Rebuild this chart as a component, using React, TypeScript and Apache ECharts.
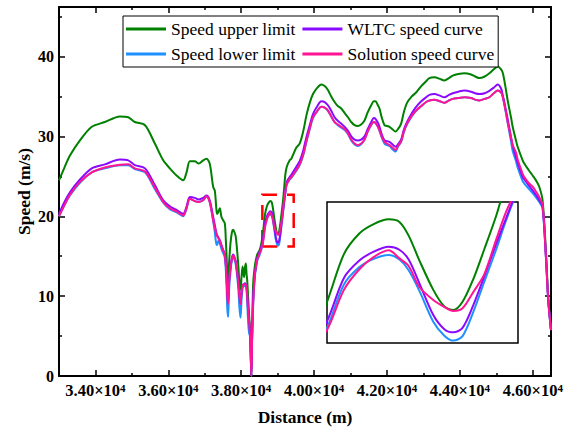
import React, { useEffect, useRef } from 'react';
import * as echarts from 'echarts';

const distance = [
  33000, 33150, 33300, 33575, 33900, 34260, 34670, 34900, 35080, 35360, 35630, 35860, 36040, 36225, 36405,
  36500, 36590, 36725, 36835, 36955, 37045, 37135, 37230, 37275, 37300, 37320, 37340, 37367, 37412, 37458,
  37504, 37550, 37578, 37600, 37620, 37641, 37665, 37705, 37745, 37779, 37815, 37852, 37916, 37950, 37980,
  38010, 38036, 38060, 38081, 38099, 38127, 38146, 38164, 38191, 38219, 38237, 38260, 38278, 38300, 38328,
  38374, 38401, 38438, 38507, 38552, 38600, 38655, 38705, 38750, 38800, 38835, 38865, 38900, 38945, 38980,
  39010, 39040, 39075, 39110, 39150, 39180, 39210, 39250, 39330, 39375, 39513, 39604, 39700, 39788, 39880,
  39969, 40090, 40196, 40290, 40379, 40470, 40562, 40650, 40745, 40840, 40928, 41018, 41110, 41200, 41290,
  41384, 41470, 41567, 41640, 41685, 41750, 41794, 41860, 41932, 42000, 42069, 42150, 42233, 42300, 42388,
  42460, 42550, 42680, 42799, 42940, 43074, 43164, 43302, 43450, 43576, 43700, 43804, 43960, 44125, 44307,
  44420, 44535, 44680, 44809, 44930, 45037, 45129, 45174, 45220, 45265, 45311, 45402, 45448, 45539, 45585,
  45722, 45767, 45900, 45996, 46100, 46178, 46269, 46361, 46425, 46500,
];

const upperLimit = [
  24.5, 26.1, 27.6, 29.5, 31.2, 31.8, 32.5, 32.4, 31.8, 31.4, 29.1, 27.0, 26.0, 25.1, 24.5,
  25.5, 26.9, 26.9, 26.6, 27.0, 27.2, 26.6, 23.7, 23.2, 22.0, 20.8, 20.3, 20.5, 21.0, 19.9,
  19.5, 19.1, 17.0, 14.8, 12.5, 11.8, 14.0, 16.6, 18.0, 18.3, 18.0, 17.4, 14.1, 11.8, 10.8,
  12.5, 13.7, 12.8, 12.4, 13.5, 14.1, 12.8, 12.0, 9.8, 7.4, 6.2, 3.0, 0, 5.5, 11.6,
  13.8, 14.5, 15.2, 15.8, 16.6, 18.1, 20.3, 21.25, 21.67, 21.9, 21.78, 21.15, 20.0, 18.65, 17.9,
  17.72, 18.1, 19.15, 20.5, 22.1, 23.6, 25.2, 26.2, 27.0, 27.2, 28.6, 29.1, 30.6, 32.6, 34.2,
  35.3, 36.1, 36.5, 36.3, 35.8, 35.0, 34.3, 33.8, 33.5, 32.9, 32.4, 31.8, 31.4, 31.3, 31.5,
  32.0, 33.0, 33.9, 34.4, 34.4, 33.9, 33.5, 32.3, 31.4, 31.3, 31.2, 30.9, 30.6, 30.9, 31.6,
  33.0, 34.2, 35.0, 35.5, 36.3, 36.9, 37.3, 37.4, 37.2, 37.0, 37.3, 37.6, 37.8, 37.9, 37.75,
  37.5, 37.3, 37.5, 37.9, 38.4, 38.75, 38.4, 38.0, 37.0, 35.8, 34.5, 32.4, 31.2, 29.5, 28.7,
  27.0, 26.6, 25.7, 25.1, 24.4, 23.7, 22.0, 15.6, 9.8, 5.75,
];

const wltcCurve = [
  20.3, 21.8, 23.0, 24.6, 26.0, 26.5, 27.1, 27.0, 26.4, 26.0, 23.9, 22.0, 21.25, 20.8, 20.3,
  21.2, 22.4, 22.3, 22.1, 22.3, 22.6, 22.0, 19.9, 18.9, 18.3, 17.9, 17.6, 17.4, 17.0, 16.4,
  15.8, 15.3, 14.0, 12.4, 10.2, 9.2, 11.8, 13.6, 14.8, 15.2, 14.9, 14.3, 12.0, 10.2, 9.1,
  10.7, 11.4, 11.5, 11.5, 11.6, 11.5, 11.2, 10.2, 8.3, 6.8, 5.8, 3.0, 0, 5.2, 9.8,
  12.8, 13.6, 14.7, 15.6, 16.2, 17.2, 19.2, 20.0, 20.4, 20.64, 20.5, 20.05, 18.95, 17.49, 16.85,
  16.69, 16.9, 17.95, 19.25, 20.8, 21.9, 23.0, 24.3, 24.9, 25.2, 26.2, 26.9, 28.2, 29.9, 31.4,
  32.8, 33.8, 34.4, 34.3, 33.9, 33.2, 32.4, 31.95, 31.6, 31.2, 30.7, 30.0, 29.6, 29.5, 29.6,
  30.0, 30.9, 31.8, 32.3, 32.2, 31.7, 31.2, 30.2, 29.5, 29.4, 29.3, 29.0, 28.7, 29.0, 29.6,
  30.8, 31.8, 32.9, 33.7, 34.4, 34.9, 35.2, 35.3, 35.1, 34.9, 35.2, 35.4, 35.6, 35.75, 35.6,
  35.4, 35.3, 35.4, 35.7, 36.1, 36.5, 36.0, 35.2, 34.3, 33.2, 32.2, 29.9, 28.9, 27.4, 26.7,
  24.9, 24.6, 23.8, 23.25, 22.6, 22.0, 21.2, 14.9, 9.5, 5.75,
];

const lowerLimit = [
  20.0, 21.4, 22.6, 24.2, 25.5, 26.0, 26.4, 26.4, 25.9, 25.5, 23.4, 21.7, 20.9, 20.5, 20.0,
  21.0, 22.2, 21.9, 21.8, 22.0, 22.5, 21.8, 19.4, 18.0, 17.0, 16.5, 16.4, 16.9, 16.6, 15.9,
  15.4, 14.8, 13.2, 10.8, 8.3, 7.4, 10.6, 13.1, 14.5, 14.9, 14.6, 13.9, 11.2, 8.6, 7.3,
  9.6, 10.9, 11.2, 11.3, 11.4, 11.2, 10.7, 9.3, 6.6, 5.3, 5.1, 2.8, 0, 5.0, 9.0,
  12.5, 13.3, 14.4, 15.2, 15.8, 16.9, 18.9, 19.7, 20.07, 20.26, 20.05, 19.55, 18.6, 17.18, 16.55,
  16.31, 16.52, 17.64, 19.0, 20.55, 21.8, 22.9, 24.0, 24.6, 24.8, 25.7, 26.4, 27.6, 29.3, 30.9,
  32.3, 33.2, 33.7, 33.6, 33.2, 32.5, 31.8, 31.4, 31.1, 30.8, 30.3, 29.5, 29.0, 28.8, 29.0,
  29.6, 30.6, 31.4, 31.8, 31.7, 31.2, 30.7, 29.8, 29.1, 28.9, 28.8, 28.4, 28.1, 28.7, 29.3,
  30.5, 31.5, 32.5, 33.2, 33.8, 34.3, 34.5, 34.6, 34.4, 34.2, 34.5, 34.7, 34.8, 34.9, 34.8,
  34.6, 34.5, 34.7, 34.9, 35.4, 35.75, 35.5, 35.0, 34.0, 32.9, 31.7, 29.4, 28.2, 26.9, 26.1,
  24.4, 24.1, 23.4, 22.9, 22.3, 21.8, 21.0, 14.8, 9.4, 5.75,
];

const solutionCurve = [
  20.0, 21.4, 22.7, 24.3, 25.5, 26.1, 26.45, 26.5, 26.0, 25.6, 23.6, 21.8, 21.0, 20.6, 20.1,
  21.0, 22.2, 21.9, 21.8, 22.0, 22.5, 21.8, 19.5, 18.6, 18.1, 17.7, 17.5, 17.3, 16.9, 16.3,
  15.7, 15.2, 13.8, 12.2, 9.9, 9.0, 11.6, 13.5, 14.7, 15.1, 14.8, 14.2, 11.9, 10.0, 9.0,
  10.6, 11.3, 11.4, 11.5, 11.5, 11.4, 11.1, 10.0, 8.1, 6.7, 5.6, 3.0, 0, 5.0, 9.1,
  12.8, 13.6, 14.6, 15.4, 16.0, 16.8, 18.65, 19.6, 20.15, 20.47, 20.1, 19.75, 18.78, 18.18, 17.87,
  17.68, 17.8, 18.55, 19.35, 21.0, 22.2, 23.1, 24.0, 24.7, 24.9, 25.8, 26.5, 27.7, 29.4, 31.0,
  32.4, 33.2, 33.7, 33.6, 33.25, 32.5, 31.8, 31.5, 31.2, 30.9, 30.4, 29.6, 29.1, 28.9, 29.1,
  29.6, 30.6, 31.5, 31.8, 31.7, 31.2, 30.75, 29.9, 29.3, 29.1, 28.9, 28.6, 28.3, 28.8, 29.4,
  30.6, 31.6, 32.6, 33.25, 33.8, 34.3, 34.5, 34.6, 34.4, 34.2, 34.5, 34.7, 34.8, 34.9, 34.8,
  34.6, 34.5, 34.7, 34.9, 35.4, 35.75, 35.5, 35.0, 34.0, 33.0, 31.8, 29.9, 28.9, 28.0, 27.1,
  25.3, 24.9, 24.1, 23.7, 23.0, 22.4, 21.4, 15.0, 9.5, 5.75,
];

const seriesNames = ['Speed upper limit', 'WLTC speed curve', 'Speed lower limit', 'Solution speed curve'];
const seriesColors = ['#008000', '#8a0aff', '#1e90ff', '#ff1493'];

const xMajorTicks = [34000, 36000, 38000, 40000, 42000, 44000, 46000];
const xMinorTicks = [35000, 37000, 39000, 41000, 43000, 45000];
const yMajorTicks = [0, 10, 20, 30, 40];
const yMinorTicks = [5, 15, 25, 35, 45];
const xRange = [33000, 46500];
const yRange = [0, 46.2];
const insetXRange = [38600, 39220];
const insetYRange = [16.2, 22.7];
const highlightFrom = [38580, 16.2];
const highlightTo = [39440, 22.7];

const FONT = "'Liberation Serif', 'Times New Roman', 'DejaVu Serif', serif";

function pairs(vals: number[]) {
  return distance.map((d, i) => [d, vals[i]]);
}

function xAxisDef(position: 'top' | 'bottom', ticks: number[], len: number, withLine: boolean, withLabels: boolean) {
  const ax: any = {
    type: 'value',
    gridIndex: 0,
    position,
    min: xRange[0],
    max: xRange[1],
    splitLine: { show: false },
    axisLine: { show: withLine, onZero: false, lineStyle: { color: '#000', width: 2 } },
    axisTick: { show: true, inside: true, length: len, customValues: ticks, lineStyle: { color: '#000', width: 1.5 } },
    axisLabel: { show: false },
  };
  if (withLabels) {
    ax.axisLabel = {
      show: true,
      customValues: ticks,
      margin: 6,
      color: '#000',
      fontFamily: FONT,
      fontWeight: 'bold',
      fontSize: 16.5,
      formatter: (v: number) => (v / 10000).toFixed(2) + '×10{sup|4}',
      rich: {
        sup: { fontSize: 11, fontWeight: 'bold', fontFamily: FONT, color: '#000', verticalAlign: 'top', lineHeight: 14 },
      },
    };
    ax.name = 'Distance (m)';
    ax.nameLocation = 'middle';
    ax.nameGap = 32;
    ax.nameMoveOverlap = false;
    ax.nameTextStyle = { fontFamily: FONT, fontWeight: 'bold', fontSize: 17.5, color: '#000' };
  }
  return ax;
}

function yAxisDef(position: 'left' | 'right', ticks: number[], len: number, withLine: boolean, withLabels: boolean) {
  const ax: any = {
    type: 'value',
    gridIndex: 0,
    position,
    min: yRange[0],
    max: yRange[1],
    splitLine: { show: false },
    axisLine: { show: withLine, onZero: false, lineStyle: { color: '#000', width: 2 } },
    axisTick: { show: true, inside: true, length: len, customValues: ticks, lineStyle: { color: '#000', width: 1.5 } },
    axisLabel: { show: false },
  };
  if (withLabels) {
    ax.axisLabel = {
      show: true,
      customValues: ticks,
      margin: 5,
      color: '#000',
      fontFamily: FONT,
      fontWeight: 'bold',
      fontSize: 16,
    };
    ax.name = 'Speed (m/s)';
    ax.nameLocation = 'middle';
    ax.nameGap = 26;
    ax.nameMoveOverlap = false;
    ax.nameRotate = 90;
    ax.nameTextStyle = { fontFamily: FONT, fontWeight: 'bold', fontSize: 17.5, color: '#000' };
  }
  return ax;
}

function lineSeries(idx: number, vals: number[], xAxisIndex: number, yAxisIndex: number, z: number, extra: any = {}) {
  return {
    type: 'line',
    name: seriesNames[idx],
    data: pairs(vals),
    xAxisIndex,
    yAxisIndex,
    showSymbol: false,
    symbol: 'none',
    smooth: 0.3,
    clip: true,
    z,
    lineStyle: { width: 2, color: seriesColors[idx] },
    itemStyle: { color: seriesColors[idx] },
    ...extra,
  };
}

export default function App() {
  const ref = useRef<HTMLDivElement>(null);

  useEffect(() => {
    if (!ref.current) return;
    const chart = echarts.init(ref.current, undefined, { renderer: 'svg' });
    const valueSets = [upperLimit, wltcCurve, lowerLimit, solutionCurve];
    const drawOrder = [0, 2, 1, 3];

    const mainSeries = drawOrder.map((k, i) =>
      lineSeries(k, valueSets[k], 0, 0, 3 + i,
        k === 0
          ? {
              markArea: {
                silent: true,
                itemStyle: { color: 'rgba(0,0,0,0)', borderColor: '#ff0000', borderWidth: 2.5, borderType: [15, 10] },
                data: [[{ xAxis: highlightFrom[0], yAxis: highlightFrom[1] }, { xAxis: highlightTo[0], yAxis: highlightTo[1] }]],
              },
            }
          : {})
    );
    const insetSeries = drawOrder.map((k, i) => lineSeries(k, valueSets[k], 4, 4, 10 + i));

    chart.setOption({
      animation: false,
      backgroundColor: '#fff',
      textStyle: { fontFamily: FONT },
      grid: [
        { left: 59, top: 7, width: 492, height: 369, containLabel: false },
        { left: 327, top: 202, width: 191, height: 141, show: true, borderColor: '#000', borderWidth: 1.5, backgroundColor: '#fff', z: 5 },
      ],
      legend: {
        data: seriesNames,
        left: 123,
        top: 16,
        width: 370,
        orient: 'horizontal',
        icon: 'rect',
        itemWidth: 40,
        itemHeight: 3,
        itemGap: 7,
        padding: [4, 4, 4, 3],
        borderColor: '#000',
        borderWidth: 1,
        backgroundColor: '#fff',
        textStyle: { fontFamily: FONT, fontSize: 17.5, color: '#000', lineHeight: 15 },
      },
      xAxis: [
        xAxisDef('bottom', xMajorTicks, 6, true, true),
        xAxisDef('bottom', xMinorTicks, 3, false, false),
        xAxisDef('top', xMajorTicks, 6, true, false),
        xAxisDef('top', xMinorTicks, 3, false, false),
        { type: 'value', gridIndex: 1, min: insetXRange[0], max: insetXRange[1], show: false },
      ],
      yAxis: [
        yAxisDef('left', yMajorTicks, 6, true, true),
        yAxisDef('left', yMinorTicks, 3, false, false),
        yAxisDef('right', yMajorTicks, 6, true, false),
        yAxisDef('right', yMinorTicks, 3, false, false),
        { type: 'value', gridIndex: 1, min: insetYRange[0], max: insetYRange[1], show: false },
      ],
      series: [...mainSeries, ...insetSeries],
    });

    return () => chart.dispose();
  }, []);

  return <div ref={ref} style={{ position: 'fixed', left: 0, top: 0, width: 570, height: 435 }} />;
}
